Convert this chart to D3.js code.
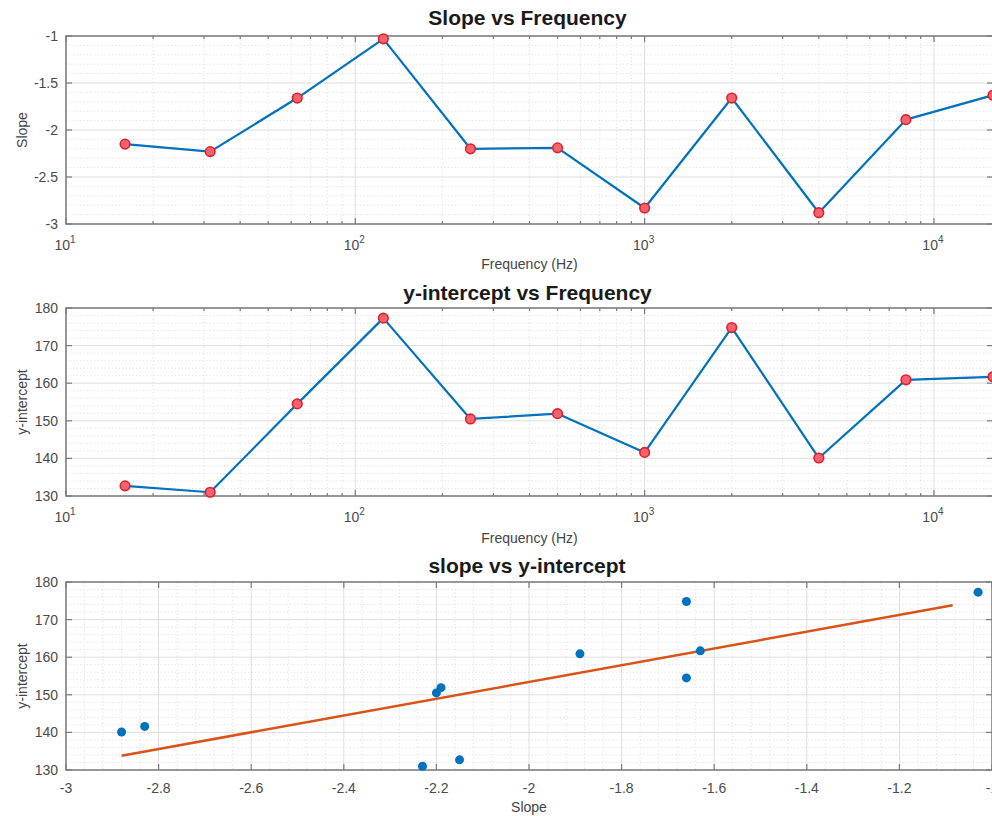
<!DOCTYPE html>
<html>
<head>
<meta charset="utf-8">
<script src="https://cdn.jsdelivr.net/npm/d3@7"></script>
<style>
  body { margin: 0; background: #fff; }
  svg { display: block; font-family: "Liberation Sans", Arial, Helvetica, sans-serif; }
</style>
</head>
<body>
<svg id="fig" width="992" height="816"></svg>
<script>
// Octave-band centre frequencies (Hz)
const frequencies = [16, 31.5, 63, 125, 250, 500, 1000, 2000, 4000, 8000, 16000];
// Fitted slope per band
const slopes = [-2.15, -2.23, -1.66, -1.03, -2.20, -2.19, -2.83, -1.66, -2.88, -1.89, -1.63];
// Fitted y-intercept per band
const intercepts = [132.7, 131.0, 154.5, 177.3, 150.5, 151.9, 141.6, 174.8, 140.1, 160.9, 161.7];
// Least-squares line through (slope, intercept), end points
const fitSlope = [-2.88, -1.085];
const fitIntercept = [133.8, 173.8];

// Axis tick values
const freqDecades = [10, 100, 1000, 10000];
const slopeTicks = [-3, -2.5, -2, -1.5, -1];
const interceptTicks = [130, 140, 150, 160, 170, 180];
const slopeAxisTicks = [-3, -2.8, -2.6, -2.4, -2.2, -2, -1.8, -1.6, -1.4, -1.2, -1];

const svg = d3.select('#fig');
svg.append('rect').attr('width', 992).attr('height', 816).attr('fill', '#fff');

const LEFT = 66, RIGHT = 993;
const BLUE = '#0072BD', ORANGE = '#D95319';
const MARK_EDGE = '#e0202c', MARK_FILL = '#f2646d';
const AXIS_COL = '#7b7b7b', TICK_TXT = '#4a4a4a', LABEL_TXT = '#444';
const GRID_MAJOR = '#dedede', GRID_MINOR = '#e6e6e6';

function minorLinear(ticks, parts) {
  const out = [];
  for (let i = 0; i < ticks.length - 1; i++) {
    const step = (ticks[i + 1] - ticks[i]) / parts;
    for (let k = 1; k < parts; k++) out.push(ticks[i] + k * step);
  }
  return out;
}
function minorLog(domain) {
  const out = [];
  for (let e = Math.floor(Math.log10(domain[0])); e <= Math.ceil(Math.log10(domain[1])); e++) {
    for (let d = 2; d <= 9; d++) {
      const v = d * Math.pow(10, e);
      if (v > domain[0] && v < domain[1]) out.push(v);
    }
  }
  return out;
}

function panel(cfg) {
  const g = svg.append('g');
  const x = cfg.x, y = cfg.y;
  const [x0, x1] = x.range();
  const [yb, yt] = y.range();

  // minor grid (dotted)
  const gm = g.append('g').attr('stroke', GRID_MINOR).attr('stroke-width', 1)
    .attr('stroke-dasharray', '1.5,2');
  gm.selectAll('line.xm').data(cfg.xMinor).join('line')
    .attr('x1', d => x(d)).attr('x2', d => x(d)).attr('y1', yt).attr('y2', yb);
  gm.selectAll('line.ym').data(cfg.yMinor).join('line')
    .attr('y1', d => y(d)).attr('y2', d => y(d)).attr('x1', x0).attr('x2', x1);

  // major grid
  const gM = g.append('g').attr('stroke', GRID_MAJOR).attr('stroke-width', 1);
  gM.selectAll('line.xg').data(cfg.xTicks).join('line')
    .attr('x1', d => x(d)).attr('x2', d => x(d)).attr('y1', yt).attr('y2', yb);
  gM.selectAll('line.yg').data(cfg.yTicks).join('line')
    .attr('y1', d => y(d)).attr('y2', d => y(d)).attr('x1', x0).attr('x2', x1);

  // inward ticks on all four sides
  const gt = g.append('g').attr('stroke', AXIS_COL).attr('stroke-width', 1.2);
  const tl = 6, mtl = 3;
  cfg.xTicks.forEach(v => {
    gt.append('line').attr('x1', x(v)).attr('x2', x(v)).attr('y1', yb).attr('y2', yb - tl);
    gt.append('line').attr('x1', x(v)).attr('x2', x(v)).attr('y1', yt).attr('y2', yt + tl);
  });
  if (cfg.xMinorTicks) cfg.xMinor.forEach(v => {
    gt.append('line').attr('x1', x(v)).attr('x2', x(v)).attr('y1', yb).attr('y2', yb - mtl);
    gt.append('line').attr('x1', x(v)).attr('x2', x(v)).attr('y1', yt).attr('y2', yt + mtl);
  });
  cfg.yTicks.forEach(v => {
    gt.append('line').attr('y1', y(v)).attr('y2', y(v)).attr('x1', x0).attr('x2', x0 + tl);
    gt.append('line').attr('y1', y(v)).attr('y2', y(v)).attr('x1', x1).attr('x2', x1 - tl);
  });

  // axes box
  g.append('rect').attr('x', x0).attr('y', yt).attr('width', x1 - x0).attr('height', yb - yt)
    .attr('fill', 'none').attr('stroke', AXIS_COL).attr('stroke-width', 1.5);

  // y tick labels
  g.append('g').selectAll('text').data(cfg.yTicks).join('text')
    .attr('x', x0 - 8).attr('y', d => y(d)).attr('dy', '0.35em')
    .attr('text-anchor', 'end').attr('font-size', 14).attr('fill', TICK_TXT)
    .text(d => String(d).replace('-', '-'));

  // x tick labels
  const xl = g.append('g').attr('font-size', 14).attr('fill', TICK_TXT).attr('text-anchor', 'middle');
  if (cfg.log) {
    cfg.xTicks.forEach(v => {
      const t = xl.append('text').attr('x', x(v) - 1).attr('y', yb + 26);
      t.append('tspan').text('10');
      t.append('tspan').attr('font-size', 10).attr('dy', -7).text(Math.round(Math.log10(v)));
    });
  } else {
    xl.selectAll('text').data(cfg.xTicks).join('text')
      .attr('x', d => x(d)).attr('y', yb + 23).text(d => String(d));
  }

  // title and axis labels
  g.append('text').attr('x', (x0 + x1) / 2 - 2).attr('y', cfg.titleY)
    .attr('text-anchor', 'middle').attr('font-size', 21).attr('font-weight', 'bold')
    .attr('fill', '#1a1a1a').text(cfg.title);
  g.append('text').attr('x', (x0 + x1) / 2).attr('y', cfg.xLabelY)
    .attr('text-anchor', 'middle').attr('font-size', 14).attr('fill', LABEL_TXT).text(cfg.xLabel);
  g.append('text').attr('transform', `translate(27,${(yt + yb) / 2}) rotate(-90)`)
    .attr('text-anchor', 'middle').attr('font-size', 14).attr('fill', LABEL_TXT).text(cfg.yLabel);

  return g;
}

function linePanel(vals, top, bottom, yDomain, yTicks, title, yLabel, titleY, xLabelY) {
  const x = d3.scaleLog().domain([10, 16000]).range([LEFT, RIGHT]);
  const y = d3.scaleLinear().domain(yDomain).range([bottom, top]);
  const g = panel({
    x, y, log: true, xTicks: freqDecades, xMinor: minorLog([10, 16000]), xMinorTicks: true,
    yTicks, yMinor: minorLinear(yTicks, 5), title, xLabel: 'Frequency (Hz)', yLabel, titleY, xLabelY
  });
  const pts = frequencies.map((f, i) => [f, vals[i]]);
  g.append('path').datum(pts)
    .attr('d', d3.line().x(d => x(d[0])).y(d => y(d[1])))
    .attr('fill', 'none').attr('stroke', BLUE).attr('stroke-width', 2.2).attr('stroke-linejoin', 'round');
  g.append('g').selectAll('circle').data(pts).join('circle')
    .attr('cx', d => x(d[0])).attr('cy', d => y(d[1])).attr('r', 4.8)
    .attr('fill', MARK_FILL).attr('stroke', MARK_EDGE).attr('stroke-width', 1.6);
}

linePanel(slopes, 36, 224, [-3, -1], slopeTicks, 'Slope vs Frequency', 'Slope', 25, 269);
linePanel(intercepts, 308, 496, [130, 180], interceptTicks, 'y-intercept vs Frequency', 'y-intercept', 300, 543);

// Scatter of slope against y-intercept with linear fit
(function () {
  const x = d3.scaleLinear().domain([-3, -1]).range([LEFT, RIGHT - 1]);
  const y = d3.scaleLinear().domain([130, 180]).range([770, 582]);
  const g = panel({
    x, y, log: false, xTicks: slopeAxisTicks, xMinor: minorLinear(slopeAxisTicks, 5), xMinorTicks: false,
    yTicks: interceptTicks, yMinor: minorLinear(interceptTicks, 5),
    title: 'slope vs y-intercept', xLabel: 'Slope', yLabel: 'y-intercept', titleY: 573, xLabelY: 812
  });
  g.append('path').datum(fitSlope.map((s, i) => [s, fitIntercept[i]]))
    .attr('d', d3.line().x(d => x(d[0])).y(d => y(d[1])))
    .attr('stroke', ORANGE).attr('stroke-width', 2.5).attr('fill', 'none');
  g.append('g').selectAll('circle').data(slopes.map((s, i) => [s, intercepts[i]])).join('circle')
    .attr('cx', d => x(d[0])).attr('cy', d => y(d[1])).attr('r', 4.5).attr('fill', BLUE);
})();
</script>
</body>
</html>
